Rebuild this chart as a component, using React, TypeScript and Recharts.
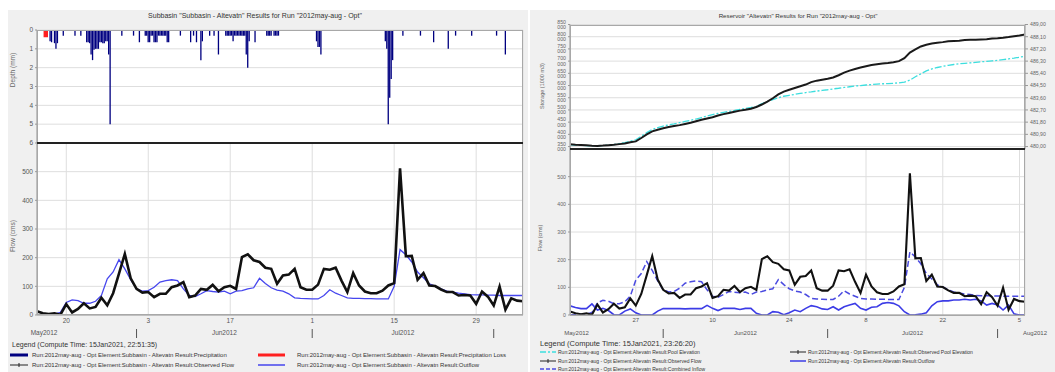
import React from 'react';
import { ComposedChart, Line, Bar, Area, XAxis, YAxis, CartesianGrid } from 'recharts';

const FONT = '"Liberation Sans", Arial, sans-serif';

// Day index: 0 = 15 May 2012 ... 83 = 6 Aug 2012
const observedFlow = [13, 6, 3, 6, 1, 38, 9, 21, 41, 23, 28, 60, 34, 76, 144, 213, 128, 91, 78, 80, 62, 74, 74, 97, 103, 115, 62, 68, 91, 88, 105, 83, 97, 102, 91, 202, 212, 191, 185, 165, 161, 109, 138, 141, 161, 97, 88, 88, 106, 161, 158, 165, 120, 80, 146, 103, 82, 76, 76, 85, 103, 111, 512, 205, 206, 123, 146, 103, 101, 89, 80, 80, 68, 70, 68, 39, 82, 64, 33, 99, 19, 58, 50, 48];
const subbasinOutflow = [0, 2, 3, 3, 9, 44, 53, 50, 41, 41, 48, 68, 126, 150, 193, 161, 123, 91, 83, 85, 97, 115, 120, 123, 120, 91, 68, 64, 74, 85, 82, 80, 83, 74, 83, 85, 91, 95, 128, 110, 95, 87, 83, 74, 60, 58, 57, 56, 56, 68, 88, 76, 68, 60, 58, 58, 57, 57, 56, 56, 56, 100, 228, 210, 185, 150, 130, 109, 101, 91, 83, 80, 76, 74, 71, 70, 70, 69, 69, 68, 68, 68, 68, 68];
const reservoirOutflow = [33, 27, 23, 23, 40, 18, 24, 16, 1, 0, 14, 22, 8, 0, 0, 0, 14, 23, 23, 23, 23, 22, 23, 23, 23, 35, 24, 16, 24, 24, 24, 20, 24, 24, 6, 0, 0, 12, 10, 1, 8, 18, 12, 24, 34, 30, 22, 20, 30, 18, 30, 36, 42, 24, 18, 28, 30, 42, 45, 42, 33, 12, 0, 1, 3, 8, 33, 48, 51, 51, 54, 54, 57, 54, 57, 51, 36, 42, 36, 18, 36, 4, 0, 0];
const poolElevation = [480.13, 480.11, 480.09, 480.07, 480.05, 480.05, 480.07, 480.11, 480.14, 480.22, 480.29, 480.40, 480.50, 480.76, 481.03, 481.26, 481.40, 481.51, 481.60, 481.67, 481.76, 481.85, 481.94, 482.03, 482.14, 482.25, 482.36, 482.45, 482.52, 482.59, 482.66, 482.74, 482.81, 482.88, 482.97, 483.17, 483.31, 483.46, 483.60, 483.71, 483.78, 483.85, 483.92, 483.98, 484.03, 484.09, 484.14, 484.19, 484.25, 484.30, 484.36, 484.41, 484.46, 484.50, 484.54, 484.57, 484.61, 484.63, 484.64, 484.66, 484.70, 484.75, 484.90, 485.15, 485.36, 485.58, 485.72, 485.83, 485.92, 485.99, 486.05, 486.10, 486.14, 486.17, 486.21, 486.25, 486.28, 486.32, 486.35, 486.41, 486.46, 486.52, 486.59, 486.66];
const observedPoolElevation = [480.17, 480.14, 480.12, 480.09, 480.06, 480.05, 480.07, 480.10, 480.13, 480.18, 480.23, 480.31, 480.38, 480.63, 480.90, 481.12, 481.24, 481.35, 481.44, 481.51, 481.58, 481.67, 481.76, 481.87, 481.98, 482.07, 482.16, 482.29, 482.39, 482.48, 482.57, 482.65, 482.72, 482.79, 482.92, 483.10, 483.31, 483.56, 483.85, 484.05, 484.19, 484.32, 484.45, 484.57, 484.75, 484.86, 484.93, 485.00, 485.09, 485.26, 485.45, 485.60, 485.72, 485.83, 485.92, 486.01, 486.07, 486.12, 486.16, 486.21, 486.30, 486.52, 486.93, 487.16, 487.38, 487.51, 487.60, 487.65, 487.70, 487.76, 487.79, 487.81, 487.85, 487.87, 487.88, 487.90, 487.92, 487.96, 487.99, 488.03, 488.08, 488.14, 488.19, 488.26];

// Precipitation (mm) at quarter-day times (day index)
const precipT = [2.25, 2.5, 3.0, 3.25, 3.5, 4.5, 6.5, 7.5, 8.5, 8.75, 9.0, 9.25, 9.5, 9.75, 10.0, 10.25, 10.5, 10.75, 11.0, 11.25, 11.5, 11.75, 12.0, 12.25, 12.5, 14.5, 16.5, 17.5, 18.5, 18.75, 19.0, 19.25, 19.5, 19.75, 20.0, 20.25, 20.5, 20.75, 21.0, 21.25, 21.5, 21.75, 22.0, 22.25, 22.5, 24.5, 26.25, 26.75, 27.25, 28.0, 28.25, 29.5, 30.25, 31.0, 32.25, 32.5, 32.75, 33.0, 33.25, 33.5, 33.75, 34.0, 34.25, 34.5, 34.75, 35.0, 35.25, 35.5, 35.75, 36.0, 36.25, 37.25, 39.25, 39.5, 39.75, 40.0, 40.5, 40.75, 41.0, 41.25, 47.75, 48.0, 48.25, 48.5, 59.5, 59.75, 60.0, 60.25, 60.5, 60.75, 62.5, 65.5, 67.75, 70.25, 71.5, 74.25, 78.5, 80.0];
const precipMm = [0.6, 0.65, 0.7, 1.0, 0.7, 0.3, 0.3, 0.3, 0.65, 0.65, 0.7, 1.3, 1.6, 1.05, 1.0, 1.0, 1.0, 0.65, 0.65, 0.7, 0.7, 0.6, 0.6, 1.3, 5.0, 0.3, 0.3, 0.65, 0.3, 0.3, 0.65, 0.65, 0.3, 0.3, 0.65, 0.65, 0.65, 0.3, 0.3, 0.3, 0.3, 0.3, 0.3, 0.65, 0.65, 0.3, 0.65, 0.3, 0.65, 1.6, 0.6, 0.3, 0.3, 1.3, 0.3, 0.3, 0.3, 0.3, 0.3, 0.6, 0.3, 0.3, 0.3, 0.3, 0.3, 0.3, 0.3, 0.3, 1.3, 2.0, 0.6, 0.65, 0.3, 0.3, 0.3, 0.3, 0.3, 0.3, 0.3, 0.3, 0.6, 0.9, 0.9, 1.3, 0.6, 1.0, 5.0, 3.6, 2.6, 1.6, 0.3, 0.3, 0.65, 1.0, 0.3, 0.3, 0.3, 1.3];
const lossT = [0, 1.25, 1.75, 83];
const lossMm = [0, 0.35, 0, 0];

const leftDayTicks = [5, 19, 33, 47, 61, 75];
const leftDayLabels = ['20', '3', '17', '1', '15', '29'];
const rightDayTicks = [12, 26, 40, 54, 68, 82];
const rightDayLabels = ['27', '10', '24', '8', '22', '5'];
const leftMonthTicks = [1.2, 17, 32, 47, 62.5, 78];
const leftMonthLabels = ['May2012', '|', 'Jun2012', '|', 'Jul2012', '|'];
const rightMonthTicks = [1.2, 17, 32, 47, 62.5, 78, 83];
const rightMonthLabels = ['May2012', '|', 'Jun2012', '|', 'Jul2012', '|', 'Aug2012'];
const rightMonthDx = [0, 0, 0, 0, 0, 0, 10];

const depthTicks = [0, 1, 2, 3, 4, 5, 6];
const flowTicks = [0, 100, 200, 300, 400, 500];
const storageTicks = [350000, 400000, 450000, 500000, 550000, 600000, 650000, 700000, 750000, 800000, 850000];
const elevTicks = [480, 480.9, 481.8, 482.7, 483.6, 484.5, 485.4, 486.3, 487.2, 488.1, 489];

const leftFlowRows = observedFlow.map((v, i) => ({ t: i, obs: v, out: subbasinOutflow[i] }));
const rightFlowRows = observedFlow.map((v, i) => ({ t: i, obs: v, inflow: subbasinOutflow[i], out: reservoirOutflow[i] }));
const poolRows = poolElevation.map((v, i) => ({ t: i, pool: v, obsPool: observedPoolElevation[i] }));
const precipRows = [
  ...precipT.map((t, k) => ({ t, p: precipMm[k] } as any)),
  ...lossT.map((t, k) => ({ t, loss: lossMm[k] } as any)),
].sort((a, b) => a.t - b.t);

const tickStyle = { fontSize: 6.5, fill: '#555', fontFamily: FONT };
const smallTick = { fontSize: 5.2, fill: '#666', fontFamily: FONT };

const fmtStorage = (v: number) => `${Math.floor(v / 1000)} ${String(Math.round(v % 1000)).padStart(3, '0')}`;
const fmtElev = (v: number) => v.toFixed(2).replace('.', ',');

const makeMonthTick = (ticks: number[], labels: string[], dxs: number[], fs: number) => (props: any) => {
  const { x, y, payload } = props;
  const idx = ticks.indexOf(payload.value);
  const label = labels[idx];
  if (label === undefined) return <g />;
  if (label === '|') return <line x1={x} x2={x} y1={y + 2} y2={y + 11} stroke="#555" strokeWidth={1} />;
  return (
    <text x={x + (dxs[idx] || 0)} y={y + 8.3} textAnchor="middle" fontSize={fs} fill="#555" fontFamily={FONT}>
      {label}
    </text>
  );
};

const abs = (left: number, top: number, width: number, height: number, extra: any = {}) => ({
  position: 'absolute' as const, left, top, width, height, ...extra,
});

function VLabel({ cx, cy, text, size }: { cx: number; cy: number; text: string; size: number }) {
  return (
    <div style={{ position: 'absolute', left: cx, top: cy, transform: 'translate(-50%,-50%) rotate(-90deg)', whiteSpace: 'nowrap', fontSize: size, color: '#666', fontFamily: FONT }}>
      {text}
    </div>
  );
}

function Sample({ color, w, dash, marker, width }: { color: string; w: number; dash?: string; marker?: boolean; width: number }) {
  return (
    <svg width={width} height={6} style={{ display: 'block', flex: 'none' }}>
      <line x1={0} x2={width} y1={3} y2={3} stroke={color} strokeWidth={w} strokeDasharray={dash} />
      {marker ? <line x1={width / 2} x2={width / 2} y1={1} y2={5} stroke={color} strokeWidth={1} /> : null}
    </svg>
  );
}

function LegendItem({ left, cy, color, w, dash, marker, text, fs, sw, gap }: any) {
  return (
    <div style={{ position: 'absolute', left, top: cy - 4, height: 8, display: 'flex', alignItems: 'center', whiteSpace: 'nowrap', fontSize: fs, color: '#333', fontFamily: FONT }}>
      <Sample color={color} w={w} dash={dash} marker={marker} width={sw} />
      <span style={{ marginLeft: gap }}>{text}</span>
    </div>
  );
}

export default function App() {
  const leftMonthTick = makeMonthTick(leftMonthTicks, leftMonthLabels, [0, 0, 0, 0, 0, 0], 6.5);
  const rightMonthTick = makeMonthTick(rightMonthTicks, rightMonthLabels, rightMonthDx, 6);
  return (
    <div style={{ position: 'absolute', left: 0, top: 0, width: 1055, height: 372, background: '#ffffff', overflow: 'hidden', fontFamily: FONT }}>
      {/* panel backgrounds */}
      <div style={abs(8, 10, 520, 362, { background: '#f0f0f0' })} />
      <div style={abs(530, 10, 525, 362, { background: '#f0f0f0' })} />
      {/* plot backgrounds */}
      <div style={abs(37, 30, 486, 285, { background: '#ffffff' })} />
      <div style={abs(570, 24.5, 455, 291, { background: '#ffffff' })} />

      {/* titles */}
      <div style={{ position: 'absolute', left: 255, top: 15, transform: 'translate(-50%,-50%)', whiteSpace: 'nowrap', fontSize: 7, color: '#333' }}>
        Subbasin "Subbasin - Altevatn" Results for Run "2012may-aug - Opt"
      </div>
      <div style={{ position: 'absolute', left: 798, top: 15, transform: 'translate(-50%,-50%)', whiteSpace: 'nowrap', fontSize: 6.2, color: '#333' }}>
        Reservoir "Altevatn" Results for Run "2012may-aug - Opt"
      </div>

      {/* LEFT TOP: precipitation */}
      <div style={abs(0, 0, 530, 150)}>
        <ComposedChart width={530} height={150} data={precipRows} margin={{ top: 30, right: 7, bottom: 7, left: 7 }}>
          <CartesianGrid xAxisId="d" yAxisId="p" stroke="#dedede" />
          <XAxis xAxisId="d" dataKey="t" type="number" domain={[0, 83]} ticks={leftDayTicks} interval={0} height={0} tick={false} tickLine={false} axisLine={false} allowDataOverflow />
          <YAxis yAxisId="p" type="number" domain={[0, 6]} reversed ticks={depthTicks} interval={0} width={30} tick={tickStyle} tickSize={2} tickMargin={2} tickLine={{ stroke: '#999' }} axisLine={{ stroke: '#999' }} allowDataOverflow />
          <Bar xAxisId="d" yAxisId="p" dataKey="p" fill="#000080" barSize={2} isAnimationActive={false} />
          <Area xAxisId="d" yAxisId="p" dataKey="loss" type="stepAfter" baseValue={0} stroke="#ff2020" strokeWidth={1.5} fill="#ff2020" fillOpacity={1} connectNulls dot={false} activeDot={false} isAnimationActive={false} />
        </ComposedChart>
      </div>

      {/* LEFT BOTTOM: flow */}
      <div style={abs(0, 140, 530, 205)}>
        <ComposedChart width={530} height={205} data={leftFlowRows} margin={{ top: 3, right: 7, bottom: 2, left: 7 }}>
          <CartesianGrid xAxisId="d" yAxisId="f" stroke="#dedede" />
          <XAxis xAxisId="d" dataKey="t" type="number" domain={[0, 83]} ticks={leftDayTicks} interval={0} height={12} tickFormatter={(v: number) => leftDayLabels[leftDayTicks.indexOf(v)] ?? ''} tick={tickStyle} tickSize={1} tickMargin={2} tickLine={false} axisLine={{ stroke: '#999' }} allowDataOverflow />
          <XAxis xAxisId="m" type="number" domain={[0, 83]} ticks={leftMonthTicks} interval={0} height={16} tick={leftMonthTick} tickSize={0} tickMargin={0} tickLine={false} axisLine={false} allowDataOverflow />
          <YAxis yAxisId="f" type="number" domain={[0, 600]} ticks={flowTicks} interval={0} width={30} tick={tickStyle} tickSize={2} tickMargin={2} tickLine={{ stroke: '#999' }} axisLine={{ stroke: '#999' }} allowDataOverflow />
          <Line xAxisId="d" yAxisId="f" dataKey="out" type="linear" stroke="#4646ee" strokeWidth={1.3} dot={false} activeDot={false} isAnimationActive={false} />
          <Line xAxisId="d" yAxisId="f" dataKey="obs" type="linear" stroke="#111111" strokeWidth={2.6} dot={false} activeDot={false} isAnimationActive={false} />
        </ComposedChart>
      </div>

      {/* RIGHT TOP: storage / elevation */}
      <div style={abs(525, 0, 530, 155)}>
        <ComposedChart width={530} height={155} data={poolRows} margin={{ top: 24.5, right: 3.5, bottom: 6, left: 7 }}>
          <CartesianGrid xAxisId="d" yAxisId="s" stroke="#dedede" />
          <XAxis xAxisId="d" dataKey="t" type="number" domain={[0, 83]} ticks={rightDayTicks} interval={0} height={0} tick={false} tickLine={false} axisLine={false} allowDataOverflow />
          <YAxis yAxisId="s" orientation="left" type="number" domain={[340000, 850000]} ticks={storageTicks} interval={0} width={38} tick={smallTick} tickFormatter={fmtStorage} tickSize={2} tickMargin={2} tickLine={{ stroke: '#999' }} axisLine={{ stroke: '#999' }} allowDataOverflow />
          <YAxis yAxisId="e" orientation="right" type="number" domain={[479.82, 489]} ticks={elevTicks} interval={0} width={26.5} tick={smallTick} tickFormatter={fmtElev} tickSize={3} tickMargin={2} tickLine={{ stroke: '#999' }} axisLine={{ stroke: '#999' }} allowDataOverflow />
          <Line xAxisId="d" yAxisId="e" dataKey="pool" type="linear" stroke="#3ddede" strokeWidth={1.3} strokeDasharray="7 2 2 2" dot={false} activeDot={false} isAnimationActive={false} />
          <Line xAxisId="d" yAxisId="e" dataKey="obsPool" type="linear" stroke="#1a1a1a" strokeWidth={2} dot={false} activeDot={false} isAnimationActive={false} />
        </ComposedChart>
      </div>

      {/* RIGHT BOTTOM: flow */}
      <div style={abs(525, 145, 530, 200)}>
        <ComposedChart width={530} height={200} data={rightFlowRows} margin={{ top: 4, right: 30, bottom: 2, left: 7 }}>
          <CartesianGrid xAxisId="d" yAxisId="f" stroke="#dedede" />
          <XAxis xAxisId="d" dataKey="t" type="number" domain={[0, 83]} ticks={rightDayTicks} interval={0} height={12} tickFormatter={(v: number) => rightDayLabels[rightDayTicks.indexOf(v)] ?? ''} tick={{ ...tickStyle, fontSize: 6 }} tickSize={1} tickMargin={2} tickLine={false} axisLine={{ stroke: '#999' }} allowDataOverflow />
          <XAxis xAxisId="m" type="number" domain={[0, 83]} ticks={rightMonthTicks} interval={0} height={16} tick={rightMonthTick} tickSize={0} tickMargin={0} tickLine={false} axisLine={false} allowDataOverflow />
          <YAxis yAxisId="f" type="number" domain={[0, 600]} ticks={flowTicks} interval={0} width={38} tick={smallTick} tickSize={2} tickMargin={2} tickLine={{ stroke: '#999' }} axisLine={{ stroke: '#999' }} allowDataOverflow />
          <Line xAxisId="d" yAxisId="f" dataKey="out" type="linear" stroke="#3c3ce6" strokeWidth={1.6} dot={false} activeDot={false} isAnimationActive={false} />
          <Line xAxisId="d" yAxisId="f" dataKey="inflow" type="linear" stroke="#4a4ae0" strokeWidth={1.5} strokeDasharray="6 3" dot={false} activeDot={false} isAnimationActive={false} />
          <Line xAxisId="d" yAxisId="f" dataKey="obs" type="linear" stroke="#111111" strokeWidth={2.1} dot={false} activeDot={false} isAnimationActive={false} />
        </ComposedChart>
      </div>

      {/* plot frames and separators */}
      <div style={abs(37, 30, 486, 285, { border: '1px solid #a8a8a8', boxSizing: 'border-box', pointerEvents: 'none' })} />
      <div style={abs(570, 24.5, 455, 291, { border: '1px solid #a8a8a8', boxSizing: 'border-box', pointerEvents: 'none' })} />
      <div style={abs(37, 142, 486, 2, { background: '#222' })} />
      <div style={abs(570, 148, 455, 2, { background: '#222' })} />

      {/* axis titles */}
      <VLabel cx={12} cy={70} text="Depth (mm)" size={6.5} />
      <VLabel cx={12} cy={236} text="Flow (cms)" size={6.5} />
      <VLabel cx={542} cy={86} text="Storage (1000 m3)" size={5.5} />
      <VLabel cx={540} cy={238} text="Flow (cms)" size={5.5} />

      {/* LEFT legend */}
      <div style={{ position: 'absolute', left: 12, top: 341, whiteSpace: 'nowrap', fontSize: 7, color: '#333', lineHeight: '8px' }}>
        Legend (Compute Time: 15Jan2021, 22:51:35)
      </div>
      <LegendItem left={10} cy={355} color="#000080" w={3} sw={18} gap={4} fs={6} text="Run:2012may-aug - Opt Element:Subbasin - Altevatn Result:Precipitation" />
      <LegendItem left={258} cy={355} color="#ff2020" w={3} sw={27} gap={12} fs={6} text="Run:2012may-aug - Opt Element:Subbasin - Altevatn Result:Precipitation Loss" />
      <LegendItem left={10} cy={365} color="#222" w={1} marker sw={18} gap={4} fs={6} text="Run:2012may-aug - Opt Element:Subbasin - Altevatn Result:Observed Flow" />
      <LegendItem left={258} cy={365} color="#4646ee" w={1.5} sw={27} gap={12} fs={6} text="Run:2012may-aug - Opt Element:Subbasin - Altevatn Result:Outflow" />

      {/* RIGHT legend */}
      <div style={{ position: 'absolute', left: 540, top: 339.5, whiteSpace: 'nowrap', fontSize: 7.5, color: '#333', lineHeight: '8px' }}>
        Legend (Compute Time: 15Jan2021, 23:26:20)
      </div>
      <LegendItem left={540} cy={352} color="#3ddede" w={1.5} dash="6 2 2 2" sw={16} gap={2} fs={5} text="Run:2012may-aug - Opt Element:Altevatn Result:Pool Elevation" />
      <LegendItem left={790} cy={352} color="#222" w={1} marker sw={16} gap={2} fs={5} text="Run:2012may-aug - Opt Element:Altevatn Result:Observed Pool Elevation" />
      <LegendItem left={540} cy={360.5} color="#222" w={1} marker sw={16} gap={2} fs={5} text="Run:2012may-aug - Opt Element:Altevatn Result:Observed Flow" />
      <LegendItem left={790} cy={360.5} color="#3c3ce6" w={1.5} sw={16} gap={2} fs={5} text="Run:2012may-aug - Opt Element:Altevatn Result:Outflow" />
      <LegendItem left={540} cy={369} color="#4a4ae0" w={1.5} dash="4 2" sw={16} gap={2} fs={5} text="Run:2012may-aug - Opt Element:Altevatn Result:Combined Inflow" />
    </div>
  );
}
